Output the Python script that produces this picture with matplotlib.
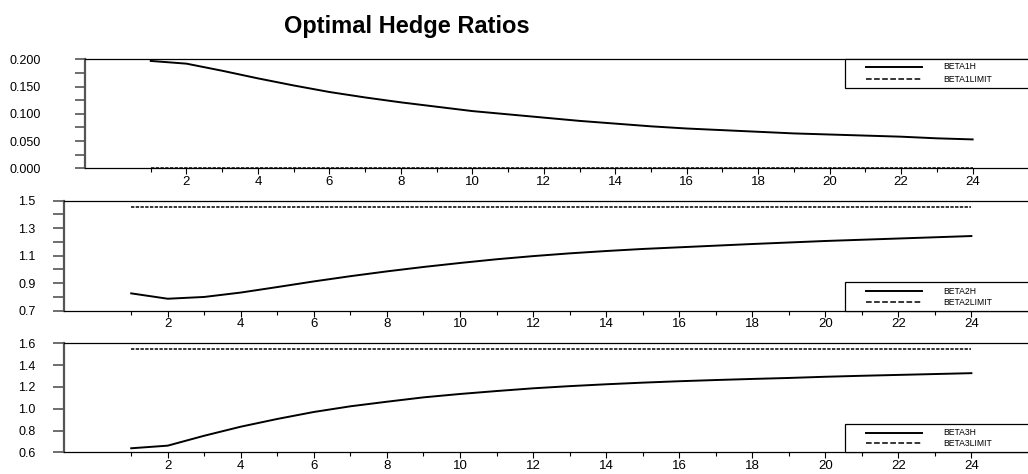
import matplotlib
matplotlib.use("Agg")
import matplotlib.pyplot as plt
from matplotlib.patches import Rectangle
from matplotlib.lines import Line2D
from matplotlib.ticker import FixedLocator, FormatStrFormatter

plt.rcParams['font.family'] = ['Liberation Sans', 'DejaVu Sans']

# forecast horizon (steps ahead)
horizon = list(range(1, 25))

beta1_h = [0.197, 0.192, 0.179, 0.165, 0.152, 0.140, 0.130, 0.121, 0.113, 0.105, 0.099, 0.093,
           0.087, 0.082, 0.077, 0.073, 0.070, 0.067, 0.064, 0.062, 0.060, 0.058, 0.055, 0.053]
beta1_limit = 0.0

beta2_h = [0.826, 0.787, 0.800, 0.832, 0.872, 0.913, 0.951, 0.986, 1.018, 1.047, 1.074, 1.097,
           1.117, 1.134, 1.149, 1.161, 1.173, 1.185, 1.196, 1.207, 1.216, 1.225, 1.234, 1.243]
beta2_limit = 1.452

beta3_h = [0.637, 0.661, 0.752, 0.835, 0.906, 0.970, 1.022, 1.064, 1.104, 1.135, 1.162, 1.187,
           1.207, 1.224, 1.239, 1.252, 1.263, 1.273, 1.282, 1.293, 1.302, 1.310, 1.318, 1.326]
beta3_limit = 1.548

names = [('BETA1H', 'BETA1LIMIT'), ('BETA2H', 'BETA2LIMIT'), ('BETA3H', 'BETA3LIMIT')]

W, H = 1028, 474
fig = plt.figure(figsize=(W / 100, H / 100), dpi=100)


def rect_px(left, top, right, bottom):
    return [left / W, 1 - bottom / H, (right - left) / W, (bottom - top) / H]


# pixel layout of each panel: left, top, right, bottom
layout = [(85, 59.3, 1028, 168.3), (64, 200.7, 1028, 310.7), (64, 343.3, 1028, 452.3)]
ylims = [(0.0, 0.2), (0.7, 1.5), (0.6, 1.6)]
ymajor = [[0.0, 0.05, 0.10, 0.15, 0.20], [0.7, 0.9, 1.1, 1.3, 1.5], [0.6, 0.8, 1.0, 1.2, 1.4, 1.6]]
yminor = [[0.025, 0.075, 0.125, 0.175], [0.8, 1.0, 1.2, 1.4], []]
yfmt = ['%.3f', '%.1f', '%.1f']
label_pad = [46.8, 25.2, 25.2]
tick_len = [7.2, 7.9, 7.9]
# legend box top/bottom and the two row heights, in pixels
keys = [(59.3, 87.7, 67, 79), (282.3, 310.7, 291, 302.3), (424.3, 452.3, 432.7, 443.3)]

series = [(beta1_h, beta1_limit), (beta2_h, beta2_limit), (beta3_h, beta3_limit)]

for i, (hedge, limit) in enumerate(series):
    ax = fig.add_axes(rect_px(*layout[i]))
    ax.plot(horizon, hedge, color='black', lw=1.4, label=names[i][0])
    ax.plot(horizon, [limit] * len(horizon), color='black', lw=1.1,
            linestyle=(0, (2.2, 0.9)), label=names[i][1], clip_on=False)

    ax.set_xlim(-0.84, 25.55)
    ax.set_ylim(*ylims[i])
    ax.spines['right'].set_visible(False)
    ax.spines['left'].set_color('#555555')
    ax.spines['left'].set_linewidth(1.6)
    ax.spines['top'].set_linewidth(0.9)
    ax.spines['bottom'].set_linewidth(0.9)

    ax.xaxis.set_major_locator(FixedLocator(horizon[1::2]))
    ax.xaxis.set_minor_locator(FixedLocator(horizon[0::2]))
    ax.tick_params(axis='x', which='major', direction='out', length=4, width=0.8,
                   pad=1.2, labelsize=9.5)
    ax.tick_params(axis='x', which='minor', direction='out', length=3, width=0.8)

    ax.yaxis.set_major_locator(FixedLocator(ymajor[i]))
    ax.yaxis.set_minor_locator(FixedLocator(yminor[i]))
    ax.yaxis.set_major_formatter(FormatStrFormatter(yfmt[i]))
    ax.tick_params(axis='y', which='both', direction='out', length=tick_len[i],
                   width=1.2, color='#555555', pad=label_pad[i], labelsize=9)
    for lab in ax.get_yticklabels():
        lab.set_horizontalalignment('left')

    # key box in the right corner of the panel
    top, bottom, row1, row2 = keys[i]
    fig.add_artist(Rectangle((845 / W, 1 - bottom / H), 300 / W, (bottom - top) / H,
                             transform=fig.transFigure, facecolor='white',
                             edgecolor='black', lw=0.9))
    for line, row in zip(ax.get_lines(), (row1, row2)):
        fig.add_artist(Line2D([866 / W, 922 / W], [1 - row / H] * 2,
                              transform=fig.transFigure, color='black',
                              lw=line.get_linewidth(), linestyle=line.get_linestyle()))
        fig.text(943 / W, 1 - row / H, line.get_label(), va='center', fontsize=6.2)

fig.text(407 / W, 1 - 33 / H, 'Optimal Hedge Ratios', ha='center', va='baseline',
         fontsize=17, fontweight='bold')

fig.savefig('out.png', dpi=100)
